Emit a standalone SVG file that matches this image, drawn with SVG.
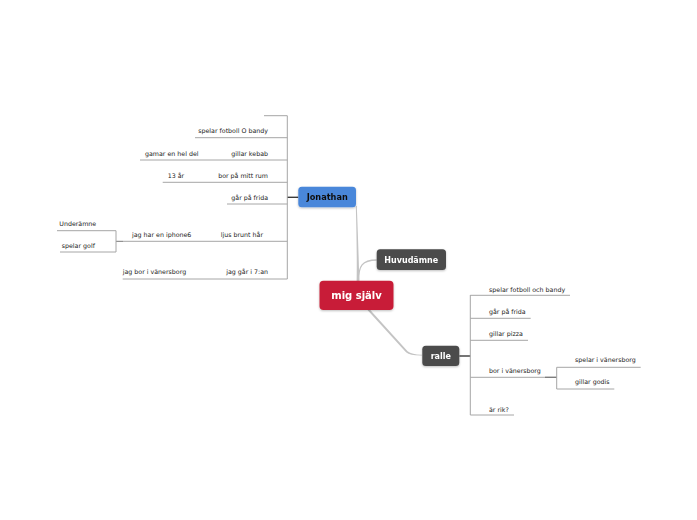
<svg xmlns="http://www.w3.org/2000/svg" width="697" height="520" viewBox="0 0 697 520">
<style>
.bg{fill:#ffffff}
.ln{stroke:#a6a6a6;stroke-width:1;fill:none}
.stub{stroke:#3a3a3a;stroke-width:1.4;fill:none}
.t{font-family:"DejaVu Sans",Verdana,sans-serif;font-size:6.3px;fill:#222}
.tn{font-family:"DejaVu Sans",Verdana,sans-serif;font-weight:bold;font-size:8px;text-anchor:middle}
.conn{fill:#c4c4c4}
</style>
<defs>
<filter id="sh" x="-20%" y="-30%" width="140%" height="170%">
<feDropShadow dx="0" dy="1" stdDeviation="1" flood-color="#000" flood-opacity="0.25"/>
</filter>
</defs>
<rect class="bg" x="0" y="0" width="697" height="520"/>

<g id="connectors">
<!-- main connectors -->
<path class="conn" d="M355.8,206 C356.6,235 357,262 356.6,282 L359.4,282 C358.8,262 358,235 356.8,206 Z"/>
<path d="M358.5,281 C358.5,266 362,260 376.7,260" stroke="#c4c4c4" stroke-width="1.3" fill="none"/>
<path class="conn" d="M367,309.5 L406,352.3 Q410.5,355.8 422,355.5 L422,354.7 Q412,354.8 407.6,351.3 L369.8,309.5 Z"/>

<!-- Jonathan branches -->
<line class="stub" x1="287" y1="197.3" x2="298.3" y2="197.3"/>
<line class="ln" x1="287.3" y1="115.7" x2="287.3" y2="279"/>
<line class="ln" x1="264" y1="115.7" x2="287.3" y2="115.7"/>
<line class="ln" x1="195" y1="137.7" x2="287.3" y2="137.7"/>
<line class="ln" x1="140" y1="160" x2="287.3" y2="160"/>
<line class="ln" x1="162.7" y1="182.3" x2="287.3" y2="182.3"/>
<line class="ln" x1="227" y1="204" x2="287.3" y2="204"/>
<line class="ln" x1="123" y1="241.3" x2="287.3" y2="241.3"/>
<line class="ln" x1="122.7" y1="279" x2="287.3" y2="279"/>
<!-- sub bracket left -->
<line x1="116" y1="241.3" x2="123" y2="241.3" stroke="#777" stroke-width="1"/>
<line class="ln" x1="116" y1="230.7" x2="116" y2="252"/>
<line class="ln" x1="57" y1="230.7" x2="116" y2="230.7"/>
<line class="ln" x1="60" y1="252" x2="116" y2="252"/>

<!-- ralle branches -->
<line class="stub" x1="459.3" y1="356" x2="470.3" y2="356"/>
<line class="ln" x1="470.3" y1="295" x2="470.3" y2="415"/>
<line class="ln" x1="470.3" y1="295.3" x2="570" y2="295.3"/>
<line class="ln" x1="470.3" y1="318.3" x2="530.7" y2="318.3"/>
<line class="ln" x1="470.3" y1="340.3" x2="528" y2="340.3"/>
<line class="ln" x1="470.3" y1="377.3" x2="556.7" y2="377.3"/>
<line x1="545" y1="377.3" x2="556.7" y2="377.3" stroke="#777" stroke-width="1.2"/>
<line class="ln" x1="470.3" y1="415" x2="514" y2="415"/>
<line class="ln" x1="556.7" y1="367.3" x2="556.7" y2="389"/>
<line class="ln" x1="556.7" y1="367.3" x2="640.7" y2="367.3"/>
<line class="ln" x1="556.7" y1="389" x2="614.3" y2="389"/>
</g>

<g id="mig-sjalv" filter="url(#sh)">
<rect x="319.5" y="280.7" width="74" height="29.3" rx="4" fill="#c81f37"/>
<text class="tn" x="356.5" y="299" fill="#ffffff" style="font-size:10px">mig själv</text>
</g>

<g id="jonathan" filter="url(#sh)">
<rect x="298.3" y="186.7" width="57.7" height="20.6" rx="3.5" fill="#4a87da"/>
<text class="tn" x="327.2" y="199.8" fill="#111111" style="font-size:8.2px">Jonathan</text>
</g>

<g id="huvudamne" filter="url(#sh)">
<rect x="376.7" y="249.3" width="69.3" height="20.7" rx="3.5" fill="#4b4b4b"/>
<text class="tn" x="411.3" y="262.5" fill="#ffffff">Huvudämne</text>
</g>

<g id="ralle" filter="url(#sh)">
<rect x="422.3" y="345.7" width="37" height="20.3" rx="3.5" fill="#4b4b4b"/>
<text class="tn" x="440.8" y="358.7" fill="#ffffff">ralle</text>
</g>

<g id="jonathan-items">
<text class="t" x="268" y="133.3" text-anchor="end">spelar fotboll O bandy</text>
<text class="t" x="268" y="155.6" text-anchor="end">gillar kebab</text>
<text class="t" x="145" y="155.6">gamar en hel del</text>
<text class="t" x="268" y="177.9" text-anchor="end">bor på mitt rum</text>
<text class="t" x="167.7" y="177.9">13 år</text>
<text class="t" x="268" y="199.8" text-anchor="end">går på frida</text>
<text class="t" x="263" y="237" text-anchor="end">ljus brunt hår</text>
<text class="t" x="132" y="237">jag har en iphone6</text>
<text class="t" x="59.3" y="226.4">Underämne</text>
<text class="t" x="61.7" y="248">spelar golf</text>
<text class="t" x="268" y="274.3" text-anchor="end">jag går i 7:an</text>
<text class="t" x="122.7" y="274.3">jag bor i vänersborg</text>
</g>

<g id="ralle-items">
<text class="t" x="489" y="292.3">spelar fotboll och bandy</text>
<text class="t" x="489" y="314.3">går på frida</text>
<text class="t" x="489" y="335.8">gillar pizza</text>
<text class="t" x="489" y="373.3">bor i vänersborg</text>
<text class="t" x="575" y="362.3">spelar i vänersborg</text>
<text class="t" x="575" y="383.5">gillar godis</text>
<text class="t" x="489" y="411.6">är rik?</text>
</g>
</svg>
